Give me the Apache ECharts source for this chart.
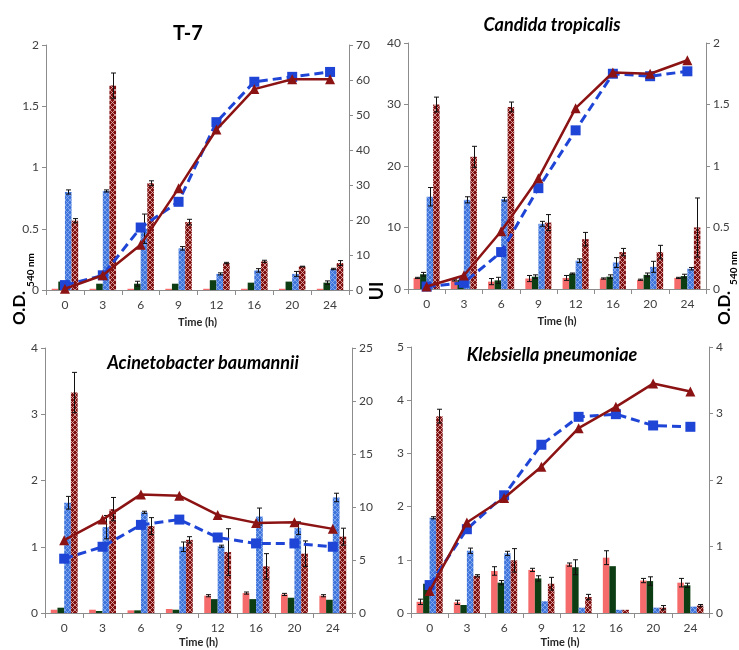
<!DOCTYPE html>
<html><head><meta charset="utf-8">
<script src="https://cdn.jsdelivr.net/npm/echarts@6/dist/echarts.min.js"></script>
<style>html,body{margin:0;padding:0;background:#fff}#c{width:739px;height:650px}</style>
</head><body><div id="c"></div>
<script>
const categories = ['0','3','6','9','12','16','20','24'];

// T-7 : bars on right axis (0-70), lines on left axis (0-2)
const t7Red = [0.35,0.35,0.35,0.35,0.35,0.35,0.35,0.35];
const t7RedErr = [0,0,0,0,0,0,0,0];
const t7Green = [2.4,1.8,1.8,1.8,2.8,2.1,2.4,2.1];
const t7GreenErr = [0,0,0.7,0,0,0,0,0.5];
const t7Blue = [28,28.3,17.5,11.9,4.6,5.6,4.6,6.0];
const t7BlueErr = [0.6,0.3,4.2,0.5,0.3,0.5,0.7,0.2];
const t7DarkRed = [19.8,58.4,30.5,19.4,7.7,8.2,6.7,7.7];
const t7DarkRedErr = [0.6,3.6,0.7,0.8,0.2,0.3,0.1,0.7];
const t7LineBlue = [0.04,0.12,0.51,0.72,1.37,1.70,1.74,1.78];
const t7LineRed = [0.01,0.12,0.37,0.83,1.31,1.64,1.72,1.72];

// Candida tropicalis : bars on left axis (0-40), lines on right axis (0-2)
const ctRed = [1.8,1.4,1.2,1.7,1.8,1.7,1.5,1.8];
const ctRedErr = [0.1,0.1,0.5,0.5,0.4,0.1,0.1,0.1];
const ctGreen = [2.4,1.5,1.4,2.0,2.5,2.0,2.3,2.1];
const ctGreenErr = [0.3,0.1,0.5,0.3,0.1,0.3,0.3,0.3];
const ctBlue = [15,14.5,14.6,10.6,4.6,4.3,3.6,3.3];
const ctBlueErr = [1.5,0.5,0.3,0.4,0.3,0.8,0.9,0.2];
const ctDarkRed = [30,21.5,29.6,10.8,8.1,6.0,6.0,10.0];
const ctDarkRedErr = [1.2,1.7,0.8,1.3,1.1,0.6,1.1,4.8];
const ctLineBlue = [0.02,0.05,0.30,0.82,1.29,1.75,1.73,1.77];
const ctLineRed = [0.02,0.11,0.47,0.90,1.47,1.76,1.75,1.86];

// Acinetobacter baumannii : bars on right axis (0-25), lines on left axis (0-4)
const abRed = [0.31,0.31,0.25,0.38,1.63,1.88,1.75,1.63];
const abRedErr = [0,0,0,0,0.1,0.1,0.1,0.1];
const abGreen = [0.5,0.19,0.25,0.31,1.31,1.31,1.44,1.25];
const abGreenErr = [0,0,0,0,0,0,0,0];
const abBlue = [10.4,8.1,9.5,6.25,6.3,9.1,8.0,10.9];
const abBlueErr = [0.6,1.1,0.1,0.45,0.1,0.8,0.6,0.4];
const abDarkRed = [20.8,9.8,8.2,6.9,5.75,4.4,5.6,7.2];
const abDarkRedErr = [1.9,1.1,0.8,0.3,2.2,1.2,1.2,0.8];
const abLineRed = [1.10,1.41,1.79,1.77,1.48,1.36,1.37,1.27];
const abLineBlue = [0.82,1.0,1.33,1.41,1.14,1.05,1.05,1.0];

// Klebsiella pneumoniae : bars on left axis (0-5), lines on right axis (0-4)
const kpRed = [0.21,0.20,0.79,0.81,0.91,1.04,0.61,0.57];
const kpRedErr = [0.05,0.04,0.08,0.03,0.03,0.13,0.04,0.08];
const kpGreen = [0.55,0.15,0.57,0.65,0.86,0.88,0.60,0.52];
const kpGreenErr = [0,0,0.04,0.05,0.14,0,0.08,0.04];
const kpBlue = [1.79,1.17,1.12,0.22,0.10,0.06,0.10,0.12];
const kpBlueErr = [0.02,0.05,0.04,0,0,0,0,0];
const kpDarkRed = [3.70,0.70,0.99,0.55,0.30,0.06,0.10,0.14];
const kpDarkRedErr = [0.13,0.02,0.22,0.12,0.05,0,0.04,0.02];
const kpLineRed = [0.33,1.36,1.73,2.20,2.78,3.10,3.45,3.33];
const kpLineBlue = [0.42,1.26,1.77,2.53,2.95,2.99,2.82,2.80];

function pattern(base, line, n, lw) {
  const c = document.createElement('canvas'); c.width = c.height = n;
  const g = c.getContext('2d');
  g.fillStyle = base; g.fillRect(0,0,n,n);
  g.strokeStyle = line; g.lineWidth = lw;
  g.beginPath(); g.moveTo(0,0); g.lineTo(n,n); g.moveTo(n,0); g.lineTo(0,n); g.stroke();
  return c;
}
const blueFill = {image: pattern('#3f74dc', '#8fb2ee', 5, 0.8), repeat: 'repeat'};
const darkRedFill = {image: pattern('#7e1010', '#e7b3b3', 5, 0.8), repeat: 'repeat'};
const barColors = ['#f56a6a', '#0d3d12', blueFill, darkRedFill];

const panels = [
  {grid:{left:46, top:45, width:303, height:245}, left:[0,2,0.5], right:[0,70,10], barAxis:1, lineAxis:0,
   bars:[[t7Red,t7RedErr],[t7Green,t7GreenErr],[t7Blue,t7BlueErr],[t7DarkRed,t7DarkRedErr]],
   lineRed:t7LineRed, lineBlue:t7LineBlue, nameGap:27},
  {grid:{left:408, top:43, width:298, height:246}, left:[0,40,10], right:[0,2,0.5], barAxis:0, lineAxis:1,
   bars:[[ctRed,ctRedErr],[ctGreen,ctGreenErr],[ctBlue,ctBlueErr],[ctDarkRed,ctDarkRedErr]],
   lineRed:ctLineRed, lineBlue:ctLineBlue, nameGap:27},
  {grid:{left:45, top:348, width:307, height:265}, left:[0,4,1], right:[0,25,5], barAxis:1, lineAxis:0,
   bars:[[abRed,abRedErr],[abGreen,abGreenErr],[abBlue,abBlueErr],[abDarkRed,abDarkRedErr]],
   lineRed:abLineRed, lineBlue:abLineBlue, nameGap:24},
  {grid:{left:411, top:347, width:298, height:266}, left:[0,5,1], right:[0,4,1], barAxis:0, lineAxis:1,
   bars:[[kpRed,kpRedErr],[kpGreen,kpGreenErr],[kpBlue,kpBlueErr],[kpDarkRed,kpDarkRedErr]],
   lineRed:kpLineRed, lineBlue:kpLineBlue, nameGap:24}
];

const FONT = 'Lato';
const axisLine = {show:true, lineStyle:{color:'#8c8c8c', width:1}};
const grids = [], xAxes = [], yAxes = [], series = [];

panels.forEach((p, gi) => {
  grids.push(Object.assign({outerBoundsMode:'none', containLabel:false}, p.grid));
  xAxes.push({type:'category', gridIndex:gi, data:categories,
    axisLine:axisLine, axisTick:{show:true, length:5, lineStyle:{color:'#8c8c8c'}},
    axisLabel:{color:'#404040', fontSize:12, fontFamily:FONT, margin:9},
    name:'Time (h)', nameLocation:'middle', nameGap:p.nameGap,
    nameTextStyle:{fontWeight:'bold', fontSize:11, color:'#262626', fontFamily:FONT},
    splitLine:{show:false}});
  const yBase = yAxes.length;
  [p.left, p.right].forEach((r, k) => {
    yAxes.push({type:'value', gridIndex:gi, position:k ? 'right' : 'left',
      min:r[0], max:r[1], interval:r[2],
      axisLine:axisLine, axisTick:{show:true, length:4, lineStyle:{color:'#8c8c8c'}},
      axisLabel:{color:'#404040', fontSize:12, fontFamily:FONT, margin:7},
      splitLine:{show:false}});
  });
  const bAx = yBase + p.barAxis, lAx = yBase + p.lineAxis;
  p.bars.forEach((b, idx) => {
    series.push({type:'bar', xAxisIndex:gi, yAxisIndex:bAx, data:b[0],
      barGap:'0%', barCategoryGap:'30%', itemStyle:{color:barColors[idx]}, z:2,
      emphasis:{disabled:true}});
  });
  p.bars.forEach((b, idx) => {
    const vals = b[0], errs = b[1];
    series.push({type:'custom', xAxisIndex:gi, yAxisIndex:bAx, z:3,
      encode:{x:0, y:1},
      data: vals.map((v, i) => [i, v, errs[i]]),
      renderItem: (params, api) => {
        const i = api.value(0), v = api.value(1), e = api.value(2);
        if (!e) return null;
        const band = api.size([1, 0])[0];
        const w = band * 0.7 / 4;
        const cx = Math.round(api.coord([i, v])[0] + (idx - 1.5) * w) + 0.5;
        const yT = api.coord([i, v + e])[1], yB = api.coord([i, Math.max(0, v - e)])[1];
        const cap = 2.5;
        const st = {stroke:'#111', lineWidth:1};
        return {type:'group', children:[
          {type:'line', shape:{x1:cx, y1:yT, x2:cx, y2:yB}, style:st},
          {type:'line', shape:{x1:cx-cap, y1:yT, x2:cx+cap, y2:yT}, style:st},
          {type:'line', shape:{x1:cx-cap, y1:yB, x2:cx+cap, y2:yB}, style:st}
        ]};
      }});
  });
  series.push({type:'line', xAxisIndex:gi, yAxisIndex:lAx, data:p.lineBlue, z:5,
    symbol:'rect', symbolSize:10, itemStyle:{color:'#1f45d6'},
    lineStyle:{color:'#1f45d6', width:3, type:[9,5]}});
  series.push({type:'line', xAxisIndex:gi, yAxisIndex:lAx, data:p.lineRed, z:6,
    symbol:'triangle', symbolSize:10, itemStyle:{color:'#8c1313'},
    lineStyle:{color:'#8c1313', width:2.5}});
});

function txt(x, y, text, size, opts) {
  return Object.assign({type:'text', x:x, y:y, z:10,
    style:Object.assign({text:text, fontSize:size, fontFamily:FONT, fill:'#000',
      align:'center', verticalAlign:'middle'}, opts && opts.style)},
    opts && opts.el);
}
const graphic = [
  txt(188, 34, 'T-7', 20, {style:{fontWeight:'bold'}}),
  txt(552, 25, 'Candida tropicalis', 18, {style:{fontStyle:'italic', fontWeight:'bold'}}),
  txt(203, 363, 'Acinetobacter baumannii', 18, {style:{fontStyle:'italic', fontWeight:'bold'}}),
  txt(552, 355, 'Klebsiella pneumoniae', 18, {style:{fontStyle:'italic', fontWeight:'bold'}}),
  txt(20, 308, 'O.D.', 17, {style:{fontWeight:'bold'}, el:{rotation:Math.PI/2}}),
  txt(31, 270, '540 nm', 10, {style:{fontWeight:'bold'}, el:{rotation:Math.PI/2}}),
  txt(725, 308, 'O.D.', 17, {style:{fontWeight:'bold'}, el:{rotation:Math.PI/2}}),
  txt(734, 268, '540 nm', 10, {style:{fontWeight:'bold'}, el:{rotation:Math.PI/2}}),
  txt(377, 291, 'UI', 18, {style:{fontWeight:'bold'}, el:{rotation:Math.PI/2}})
];

const chart = echarts.init(document.getElementById('c'), null, {renderer:'canvas'});
chart.setOption({
  animation:false, backgroundColor:'#fff',
  grid:grids, xAxis:xAxes, yAxis:yAxes, series:series, graphic:graphic
});
</script></body></html>
